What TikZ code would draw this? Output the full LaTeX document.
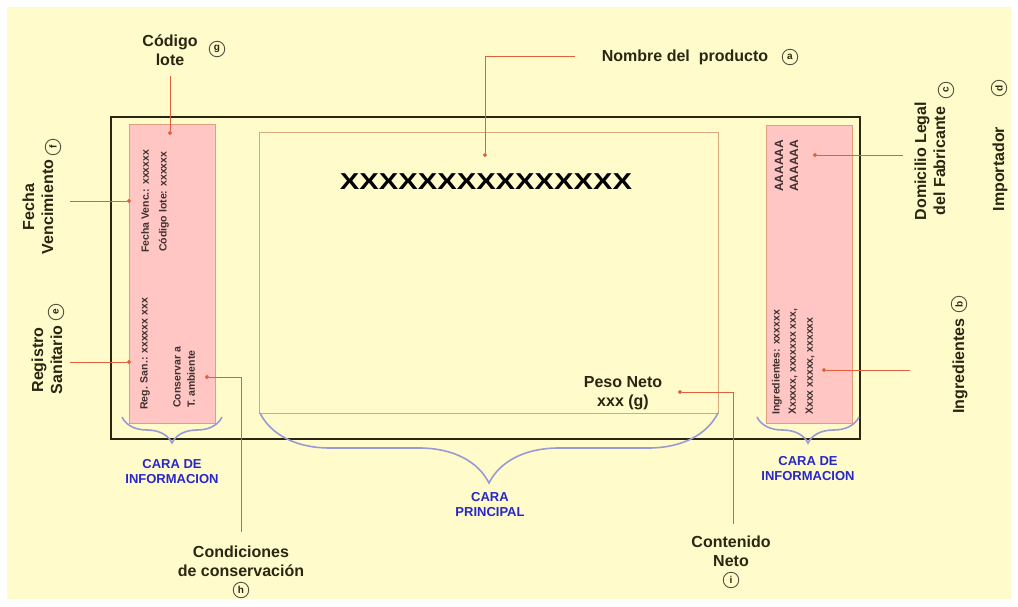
\documentclass[tikz,border=0pt]{standalone}
\usepackage{fontspec}
\setmainfont{Liberation Sans}
\usetikzlibrary{arrows.meta,decorations.pathreplacing}
\definecolor{bgyel}{HTML}{FFFBCB}
\definecolor{pinkf}{HTML}{FFC6C3}
\definecolor{pinkd}{HTML}{E0A080}
\definecolor{tanl}{HTML}{D8A878}
\definecolor{redl}{HTML}{E2603C}
\definecolor{darkt}{HTML}{2A2612}
\definecolor{bluet}{HTML}{2828C8}
\definecolor{bracec}{HTML}{9A9AD4}
\definecolor{smallt}{HTML}{3E3030}
\begin{document}
\begin{tikzpicture}[x=1pt,y=-1pt,
 lbl/.style={font=\fontsize{16}{19}\selectfont\bfseries, text=darkt, align=center, inner sep=0pt},
 rlbl/.style={lbl, rotate=90},
 tinyt/.style={font=\fontsize{10.5}{11}\selectfont\bfseries, text=smallt, inner sep=0pt, rotate=90, anchor=west},
 letter/.style={circle, draw=darkt!80, line width=0.9pt, minimum size=15.5pt, inner sep=0pt, font=\fontsize{10}{10}\selectfont\bfseries, text=darkt},
 rletter/.style={letter, rotate=90},
 conn/.style={draw=redl, line width=0.9pt, -{Circle[length=4pt]}},
 brc/.style={draw=bracec, line width=1.6pt, decorate},
 bluelbl/.style={font=\fontsize{13}{15}\selectfont\bfseries, text=bluet, align=center, inner sep=0pt}]
\useasboundingbox (0,0) rectangle (1018,606);
\fill[white] (0,0) rectangle (1018,606);
\fill[bgyel] (7,7) rectangle (1011,599);
% panels
\draw[pinkd, fill=pinkf, line width=0.8pt] (129,124) rectangle (215,423);
\draw[pinkd, fill=pinkf, line width=0.8pt] (766,125) rectangle (852,423);
\draw[tanl, line width=1pt] (259,132) rectangle (718,413);
\draw[darkt, line width=2.8pt] (111,117) rectangle (860,439);
% braces
\draw[brc, decoration={brace, amplitude=26pt}] (222,417) -- (122,417);
\draw[brc, decoration={brace, amplitude=26pt}] (859,417) -- (757,417);
\draw[brc, decoration={brace, amplitude=70pt}] (718,413) -- (260,413);
\node[bluelbl] (cil) at (172,472) {CARA DE\\INFORMACION};
\node[bluelbl] (cir) at (808,469) {CARA DE\\INFORMACION};
\node[bluelbl] (cp) at (490,505) {CARA\\PRINCIPAL};
% panel contents
\node[tinyt] (t1) at (145,253) {Fecha Venc.: xxxxxx};
\node[tinyt] (t2) at (164,252) {Código lote: xxxxxx};
\node[tinyt] (t3) at (145,410) {Reg. San.: xxxxxx xxx};
\node[tinyt] (t4) at (177,408) {Conservar a};
\node[tinyt] (t5) at (191,408) {T. ambiente};
\node[tinyt, font=\fontsize{12}{12}\selectfont\bfseries] (t6) at (779,192) {AAAAAA};
\node[tinyt, font=\fontsize{12}{12}\selectfont\bfseries] (t7) at (794,192) {AAAAAA};
\node[tinyt] (t8) at (777,415) {Ingredientes: xxxxxx};
\node[tinyt] (t9) at (793,415) {Xxxxxx, xxxxxxx xxx,};
\node[tinyt] (t10) at (810,415) {Xxxx xxxxx, xxxxxx};
\node[inner sep=0pt, text=black, font=\fontsize{23}{23}\selectfont\bfseries] (xx) at (486,182) {\scalebox{1.27}[1]{XXXXXXXXXXXXXXX}};
\node[lbl] (pn) at (623,393) {Peso Neto\\xxx (g)};
% labels
\node[lbl] (cod) at (170,50) {Código\\lote};
\node[letter] (lg) at (217,49) {g};
\node[rlbl] (fv) at (38,207) {Fecha\\Vencimiento};
\node[rletter] (lf) at (53,147) {f};
\node[rlbl] (rs) at (47,360) {Registro\\Sanitario};
\node[rletter] (le) at (56,312) {e};
\node[lbl] (cc) at (241,561) {Condiciones\\de conservación};
\node[letter] (lh) at (241,590) {h};
\node[lbl] (np) at (685,57) {Nombre del\ \ producto};
\node[letter] (la) at (790,57) {a};
\node[rlbl] (dl) at (930,161) {Domicilio Legal\\del Fabricante};
\node[rletter] (lc) at (946,90) {c};
\node[rlbl] (imp) at (1000,169) {Importador};
\node[rletter] (ld) at (999,88) {d};
\node[rlbl] (ing) at (960,366) {Ingredientes};
\node[rletter] (lb) at (959,304) {b};
\node[lbl] (cn) at (731,551) {Contenido\\Neto};
\node[letter] (li) at (731,580) {i};
% connectors
\coordinate (g0) at (170,76); \coordinate (g1) at (170,135);
\draw[conn] (g0) -- (g1);
\coordinate (f0) at (70,201); \coordinate (f1) at (131,201);
\draw[conn] (f0) -- (f1);
\coordinate (e0) at (70,362); \coordinate (e1) at (131,362);
\draw[conn] (e0) -- (e1);
\coordinate (h0) at (241,532); \coordinate (h1) at (241,377); \coordinate (h2) at (205,377);
\draw[conn] (h0) -- (h1) -- (h2);
\coordinate (a0) at (575,56); \coordinate (a1) at (485,56); \coordinate (a2) at (485,157);
\draw[conn] (a0) -- (a1) -- (a2);
\coordinate (c0) at (903,155); \coordinate (c1) at (813,155);
\draw[conn] (c0) -- (c1);
\coordinate (b0) at (910,370); \coordinate (b1) at (822,370);
\draw[conn] (b0) -- (b1);
\coordinate (i0) at (733,524); \coordinate (i1) at (733,392); \coordinate (i2) at (678,392);
\draw[conn] (i0) -- (i1) -- (i2);
\end{tikzpicture}
\end{document}
